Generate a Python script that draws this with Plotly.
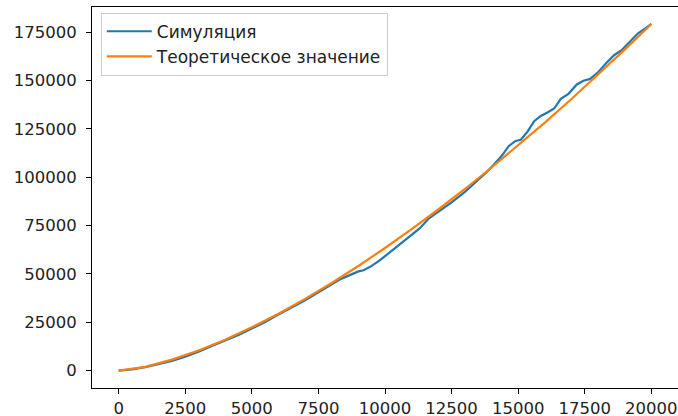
import plotly.graph_objects as go

# Simulation series
sim_x = [0, 500, 1000, 1500, 2000, 2500, 3000, 3500, 4000, 4500, 5000, 5500, 6000,
         6500, 7000, 7500, 8000, 8300, 8700, 9000, 9200, 9500, 9800, 10200, 10600,
         11000, 11300, 11650, 12000, 12500, 13000, 13500, 13800, 14100, 14400, 14650,
         14900, 15100, 15350, 15600, 15850, 16100, 16350, 16600, 16900, 17200, 17450,
         17700, 18000, 18300, 18600, 18900, 19200, 19500, 19800, 20000]
sim_y = [0, 660, 1800, 3280, 5070, 7220, 9810, 12820, 15430, 18430, 21800, 25140, 29050,
         32600, 36400, 40550, 44840, 47110, 49510, 51300, 51910, 54170, 56970, 61270, 65750,
         70200, 73510, 78780, 81990, 86950, 92410, 98380, 102410, 106680, 111290, 116150,
         118740, 119370, 123500, 128950, 131640, 133440, 135470, 140510, 143200, 147930, 149850,
         150800, 154210, 158850, 163030, 165830, 170060, 174330, 177130, 179200]

# Theoretical series
theo_x = [0, 1000, 2000, 3000, 4000, 5000, 6000, 7000, 8000, 9000, 10000,
          11000, 12000, 13000, 14000, 15000, 16000, 17000, 18000, 19000, 20000]
theo_y = [0, 2000, 5700, 10400, 16000, 22400, 29400, 37100, 45300, 54100, 63400,
          73100, 83300, 93900, 105000, 116400, 128200, 140400, 153000, 165900, 179200]

x_ticks = [0, 2500, 5000, 7500, 10000, 12500, 15000, 17500, 20000]
y_ticks = [0, 25000, 50000, 75000, 100000, 125000, 150000, 175000]

names = ["Симуляция", "Теоретическое значение"]
colors = ["#1f77b4", "#ff7f0e"]

fig = go.Figure()
fig.add_trace(go.Scatter(x=sim_x, y=sim_y, mode="lines", name=names[0],
                         line=dict(color=colors[0], width=2.2)))
fig.add_trace(go.Scatter(x=theo_x, y=theo_y, mode="lines", name=names[1],
                         line=dict(color=colors[1], width=2.2)))

font = dict(family="DejaVu Sans", size=16.5, color="#222222")
legend_font = dict(family="DejaVu Sans", size=17, color="#222222")
axis_common = dict(showgrid=False, zeroline=False, showline=True, mirror=True,
                   linecolor="black", linewidth=1, ticks="outside", ticklen=5,
                   tickcolor="black", tickwidth=1, tickfont=font, automargin=False)

fig.update_layout(
    width=678, height=416,
    margin=dict(l=92, r=0, t=7, b=28),
    plot_bgcolor="white", paper_bgcolor="white",
    font=font,
    xaxis=dict(range=[-1000, 21000], tickvals=x_ticks, ticklabelstandoff=0,
               ticktext=[str(v) for v in x_ticks], **axis_common),
    yaxis=dict(range=[-8950, 187950], tickvals=y_ticks, ticklabelstandoff=6,
               ticktext=[str(v) for v in y_ticks], **axis_common),
    legend=dict(x=0.015, y=0.985, xanchor="left", yanchor="top",
                bgcolor="rgba(255,255,255,0.8)", bordercolor="#cccccc",
                borderwidth=1, font=legend_font, tracegroupgap=0, itemwidth=45),
    showlegend=True,
)

fig.write_html("out.html",
               config={"displayModeBar": False},
               post_script="document.body.style.margin='0';document.body.style.overflow='hidden';")
